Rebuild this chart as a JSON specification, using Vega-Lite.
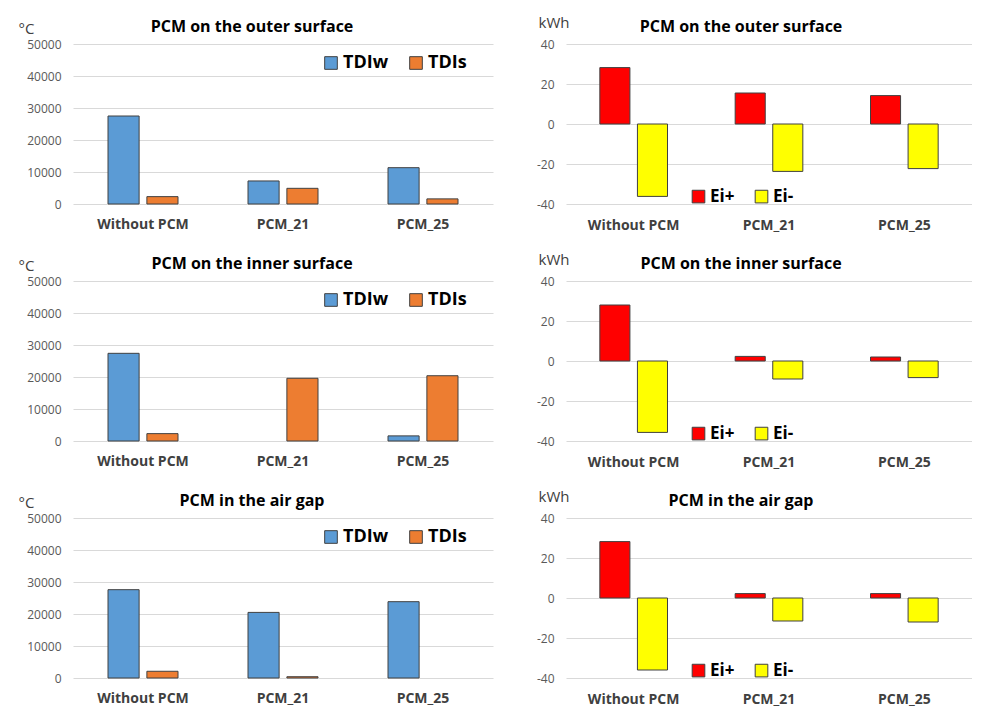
{
  "$schema": "https://vega.github.io/schema/vega-lite/v6.json",
  "background": "white",
  "padding": {"left": 18, "top": 15, "right": 0, "bottom": 0},
  "datasets": {
    "tdi": [
      {"panel": "outer", "config": "Without PCM", "series": "TDIw", "value": 27500},
      {"panel": "outer", "config": "Without PCM", "series": "TDIs", "value": 2300},
      {"panel": "outer", "config": "PCM_21", "series": "TDIw", "value": 7200},
      {"panel": "outer", "config": "PCM_21", "series": "TDIs", "value": 4900},
      {"panel": "outer", "config": "PCM_25", "series": "TDIw", "value": 11350},
      {"panel": "outer", "config": "PCM_25", "series": "TDIs", "value": 1600},
      {"panel": "inner", "config": "Without PCM", "series": "TDIw", "value": 27400},
      {"panel": "inner", "config": "Without PCM", "series": "TDIs", "value": 2300},
      {"panel": "inner", "config": "PCM_21", "series": "TDIw", "value": 0},
      {"panel": "inner", "config": "PCM_21", "series": "TDIs", "value": 19600},
      {"panel": "inner", "config": "PCM_25", "series": "TDIw", "value": 1600},
      {"panel": "inner", "config": "PCM_25", "series": "TDIs", "value": 20400},
      {"panel": "gap", "config": "Without PCM", "series": "TDIw", "value": 27600},
      {"panel": "gap", "config": "Without PCM", "series": "TDIs", "value": 2100},
      {"panel": "gap", "config": "PCM_21", "series": "TDIw", "value": 20500},
      {"panel": "gap", "config": "PCM_21", "series": "TDIs", "value": 400},
      {"panel": "gap", "config": "PCM_25", "series": "TDIw", "value": 23850},
      {"panel": "gap", "config": "PCM_25", "series": "TDIs", "value": 0}
    ],
    "ei": [
      {"panel": "outer", "config": "Without PCM", "series": "Ei+", "value": 28.2},
      {"panel": "outer", "config": "Without PCM", "series": "Ei-", "value": -36.2},
      {"panel": "outer", "config": "PCM_21", "series": "Ei+", "value": 15.5},
      {"panel": "outer", "config": "PCM_21", "series": "Ei-", "value": -23.7},
      {"panel": "outer", "config": "PCM_25", "series": "Ei+", "value": 14.2},
      {"panel": "outer", "config": "PCM_25", "series": "Ei-", "value": -22.3},
      {"panel": "inner", "config": "Without PCM", "series": "Ei+", "value": 28.0},
      {"panel": "inner", "config": "Without PCM", "series": "Ei-", "value": -35.7},
      {"panel": "inner", "config": "PCM_21", "series": "Ei+", "value": 2.3},
      {"panel": "inner", "config": "PCM_21", "series": "Ei-", "value": -9.0},
      {"panel": "inner", "config": "PCM_25", "series": "Ei+", "value": 2.0},
      {"panel": "inner", "config": "PCM_25", "series": "Ei-", "value": -8.3},
      {"panel": "gap", "config": "Without PCM", "series": "Ei+", "value": 28.2},
      {"panel": "gap", "config": "Without PCM", "series": "Ei-", "value": -36.0},
      {"panel": "gap", "config": "PCM_21", "series": "Ei+", "value": 2.2},
      {"panel": "gap", "config": "PCM_21", "series": "Ei-", "value": -11.5},
      {"panel": "gap", "config": "PCM_25", "series": "Ei+", "value": 2.2},
      {"panel": "gap", "config": "PCM_25", "series": "Ei-", "value": -12.0}
    ]
  },
  "columns": 2,
  "spacing": {"row": 20, "column": 43},
  "resolve": {"scale": {"color": "independent", "x": "independent", "y": "independent", "xOffset": "independent"}, "legend": {"color": "independent"}},
  "concat": [
    {
      "width": 420, "height": 160,
      "title": {"text": "PCM on the outer surface", "dx": -31, "offset": -14},
      "data": {"name": "tdi"},
      "transform": [{"filter": "datum.panel === 'outer'"}],
      "mark": {"type": "bar", "stroke": "#404040"},
      "encoding": {
        "x": {"field": "config", "type": "nominal", "sort": ["Without PCM", "PCM_21", "PCM_25"], "scale": {"paddingInner": 0.5, "paddingOuter": 0.25}, "axis": {"title": null, "labelAngle": 0, "labelPadding": 13}},
        "xOffset": {"field": "series", "type": "nominal", "sort": ["TDIw", "TDIs"], "scale": {"paddingInner": 0.2}},
        "y": {"field": "value", "type": "quantitative", "scale": {"domain": [0, 50000]}, "axis": {"title": "°C", "values": [0, 10000, 20000, 30000, 40000, 50000], "format": "d", "titleX": -55, "titleY": -11}},
        "color": {"field": "series", "type": "nominal", "sort": ["TDIw", "TDIs"], "scale": {"domain": ["TDIw", "TDIs"], "range": ["#5B9BD5", "#ED7D31"]}, "legend": {"orient": "none", "legendX": 249, "legendY": 10, "direction": "horizontal", "title": null, "labelFontSize": 18}},
        "strokeWidth": {"condition": {"test": "datum.value === 0", "value": 0}, "value": 1}
      }
    },
    {
      "width": 406, "height": 160,
      "title": {"text": "PCM on the outer surface", "dx": -28, "offset": -20},
      "data": {"name": "ei"},
      "transform": [{"filter": "datum.panel === 'outer'"}],
      "mark": {"type": "bar", "stroke": "#404040"},
      "encoding": {
        "x": {"field": "config", "type": "nominal", "sort": ["Without PCM", "PCM_21", "PCM_25"], "scale": {"paddingInner": 0.5, "paddingOuter": 0.25}, "axis": {"title": null, "labelAngle": 0, "labelPadding": 14}},
        "xOffset": {"field": "series", "type": "nominal", "sort": ["Ei+", "Ei-"], "scale": {"paddingInner": 0.2}},
        "y": {"field": "value", "type": "quantitative", "scale": {"domain": [-40, 40]}, "axis": {"title": "kWh", "values": [-40, -20, 0, 20, 40], "labelExpr": "toString(datum.value)", "titleX": -28, "titleY": -17}},
        "color": {"field": "series", "type": "nominal", "sort": ["Ei+", "Ei-"], "scale": {"domain": ["Ei+", "Ei-"], "range": ["#FF0000", "#FFFF00"]}, "legend": {"orient": "none", "legendX": 124, "legendY": 144, "direction": "horizontal", "title": null, "labelFontSize": 17}},
        "strokeWidth": {"value": 1}
      }
    },
    {
      "width": 420, "height": 160,
      "title": {"text": "PCM on the inner surface", "dx": -31, "offset": -14},
      "data": {"name": "tdi"},
      "transform": [{"filter": "datum.panel === 'inner'"}],
      "mark": {"type": "bar", "stroke": "#404040"},
      "encoding": {
        "x": {"field": "config", "type": "nominal", "sort": ["Without PCM", "PCM_21", "PCM_25"], "scale": {"paddingInner": 0.5, "paddingOuter": 0.25}, "axis": {"title": null, "labelAngle": 0, "labelPadding": 13}},
        "xOffset": {"field": "series", "type": "nominal", "sort": ["TDIw", "TDIs"], "scale": {"paddingInner": 0.2}},
        "y": {"field": "value", "type": "quantitative", "scale": {"domain": [0, 50000]}, "axis": {"title": "°C", "values": [0, 10000, 20000, 30000, 40000, 50000], "format": "d", "titleX": -55, "titleY": -11}},
        "color": {"field": "series", "type": "nominal", "sort": ["TDIw", "TDIs"], "scale": {"domain": ["TDIw", "TDIs"], "range": ["#5B9BD5", "#ED7D31"]}, "legend": {"orient": "none", "legendX": 249, "legendY": 10, "direction": "horizontal", "title": null, "labelFontSize": 18}},
        "strokeWidth": {"condition": {"test": "datum.value === 0", "value": 0}, "value": 1}
      }
    },
    {
      "width": 406, "height": 160,
      "title": {"text": "PCM on the inner surface", "dx": -28, "offset": -20},
      "data": {"name": "ei"},
      "transform": [{"filter": "datum.panel === 'inner'"}],
      "mark": {"type": "bar", "stroke": "#404040"},
      "encoding": {
        "x": {"field": "config", "type": "nominal", "sort": ["Without PCM", "PCM_21", "PCM_25"], "scale": {"paddingInner": 0.5, "paddingOuter": 0.25}, "axis": {"title": null, "labelAngle": 0, "labelPadding": 14}},
        "xOffset": {"field": "series", "type": "nominal", "sort": ["Ei+", "Ei-"], "scale": {"paddingInner": 0.2}},
        "y": {"field": "value", "type": "quantitative", "scale": {"domain": [-40, 40]}, "axis": {"title": "kWh", "values": [-40, -20, 0, 20, 40], "labelExpr": "toString(datum.value)", "titleX": -28, "titleY": -17}},
        "color": {"field": "series", "type": "nominal", "sort": ["Ei+", "Ei-"], "scale": {"domain": ["Ei+", "Ei-"], "range": ["#FF0000", "#FFFF00"]}, "legend": {"orient": "none", "legendX": 124, "legendY": 144, "direction": "horizontal", "title": null, "labelFontSize": 17}},
        "strokeWidth": {"value": 1}
      }
    },
    {
      "width": 420, "height": 160,
      "title": {"text": "PCM in the air gap", "dx": -31, "offset": -14},
      "data": {"name": "tdi"},
      "transform": [{"filter": "datum.panel === 'gap'"}],
      "mark": {"type": "bar", "stroke": "#404040"},
      "encoding": {
        "x": {"field": "config", "type": "nominal", "sort": ["Without PCM", "PCM_21", "PCM_25"], "scale": {"paddingInner": 0.5, "paddingOuter": 0.25}, "axis": {"title": null, "labelAngle": 0, "labelPadding": 13}},
        "xOffset": {"field": "series", "type": "nominal", "sort": ["TDIw", "TDIs"], "scale": {"paddingInner": 0.2}},
        "y": {"field": "value", "type": "quantitative", "scale": {"domain": [0, 50000]}, "axis": {"title": "°C", "values": [0, 10000, 20000, 30000, 40000, 50000], "format": "d", "titleX": -55, "titleY": -11}},
        "color": {"field": "series", "type": "nominal", "sort": ["TDIw", "TDIs"], "scale": {"domain": ["TDIw", "TDIs"], "range": ["#5B9BD5", "#ED7D31"]}, "legend": {"orient": "none", "legendX": 249, "legendY": 10, "direction": "horizontal", "title": null, "labelFontSize": 18}},
        "strokeWidth": {"condition": {"test": "datum.value === 0", "value": 0}, "value": 1}
      }
    },
    {
      "width": 406, "height": 160,
      "title": {"text": "PCM in the air gap", "dx": -28, "offset": -20},
      "data": {"name": "ei"},
      "transform": [{"filter": "datum.panel === 'gap'"}],
      "mark": {"type": "bar", "stroke": "#404040"},
      "encoding": {
        "x": {"field": "config", "type": "nominal", "sort": ["Without PCM", "PCM_21", "PCM_25"], "scale": {"paddingInner": 0.5, "paddingOuter": 0.25}, "axis": {"title": null, "labelAngle": 0, "labelPadding": 14}},
        "xOffset": {"field": "series", "type": "nominal", "sort": ["Ei+", "Ei-"], "scale": {"paddingInner": 0.2}},
        "y": {"field": "value", "type": "quantitative", "scale": {"domain": [-40, 40]}, "axis": {"title": "kWh", "values": [-40, -20, 0, 20, 40], "labelExpr": "toString(datum.value)", "titleX": -28, "titleY": -17}},
        "color": {"field": "series", "type": "nominal", "sort": ["Ei+", "Ei-"], "scale": {"domain": ["Ei+", "Ei-"], "range": ["#FF0000", "#FFFF00"]}, "legend": {"orient": "none", "legendX": 124, "legendY": 144, "direction": "horizontal", "title": null, "labelFontSize": 17}},
        "strokeWidth": {"value": 1}
      }
    }
  ],
  "config": {
    "view": {"stroke": null},
    "font": "Open Sans",
    "title": {"font": "Open Sans", "fontSize": 16, "fontWeight": "bold", "color": "#000000", "anchor": "middle"},
    "axis": {"labelFont": "Open Sans", "titleFont": "Open Sans", "domain": false, "ticks": false, "gridColor": "#d9d9d9", "gridWidth": 1},
    "axisX": {"grid": false, "labelFontSize": 14, "labelFontWeight": "bold", "labelColor": "#404040"},
    "axisY": {"grid": true, "labelFontSize": 12, "labelColor": "#595959", "labelPadding": 12, "titleAngle": 0, "titleAlign": "left", "titleBaseline": "alphabetic", "titleFontSize": 15, "titleFontWeight": "normal", "titleColor": "#404040"},
    "legend": {"symbolType": "square", "symbolSize": 160, "symbolStrokeColor": "#404040", "symbolStrokeWidth": 1, "labelFont": "Open Sans", "labelFontWeight": "bold", "labelColor": "#000000", "columnPadding": 18, "labelOffset": 3}
  }
}
